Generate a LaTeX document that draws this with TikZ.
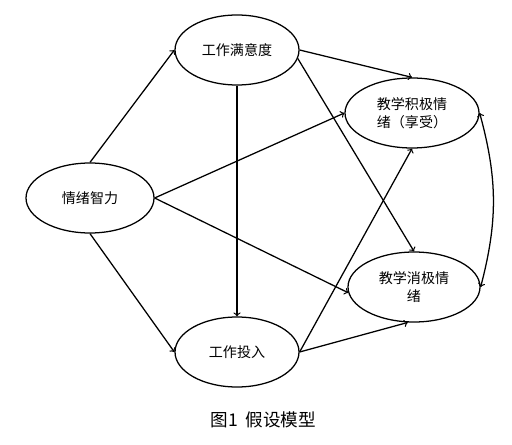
\documentclass[tikz,border=0pt]{standalone}
\usepackage{fontspec}
\setmainfont{Noto Sans CJK SC}
\usetikzlibrary{shapes.geometric}
\tikzset{
	var/.style={draw, ellipse, line width=0.9pt, minimum width=3.1cm, minimum height=1.75cm, inner sep=0pt, align=center, font=\fontsize{10}{13}\selectfont},
	path/.style={->, line width=0.9pt}
}
\begin{document}
\begin{tikzpicture}
	        	\useasboundingbox (0,0) rectangle (12.8,-11.125);
	        	\node[var] (sat) at (5.925,-1.25) {工作满意度};
	        	\node[var, minimum width=3.2cm] (emo) at (2.25,-4.95) {情绪智力};
	        	\node[var] (inv) at (5.925,-8.8) {工作投入};
	        	\node[var, minimum width=3.35cm] (pos) at (10.3,-2.825) {教学积极情\\绪（享受）};
	        	\node[var, minimum width=3.3cm] (neg) at (10.35,-7.175) {教学消极情\\绪};
	        	\node[font=\fontsize{12.5}{14}\selectfont] (cap) at (6.58,-10.5) {图1\ \ 假设模型};
	        	\draw[path] (emo.north) -- (sat.west);
	        	\draw[path] (emo.south) -- (inv.west);
	        	\draw[path] (emo.east) -- (pos.west);
	        	\draw[path] (emo.east) -- (neg.185);
	        	\draw[path] (sat.south) -- (inv.north);
	        	\draw[path] (sat.east) -- (pos.north);
	        	\draw[path] (sat.-8) -- (neg.north);
	        	\draw[path] (inv.east) -- (pos.south);
	        	\draw[path] (inv.east) -- (neg.-100);
	        	\draw[<->, line width=0.9pt] (pos.east) to[bend left=15] (neg.east);
        	\end{tikzpicture}
\end{document}
